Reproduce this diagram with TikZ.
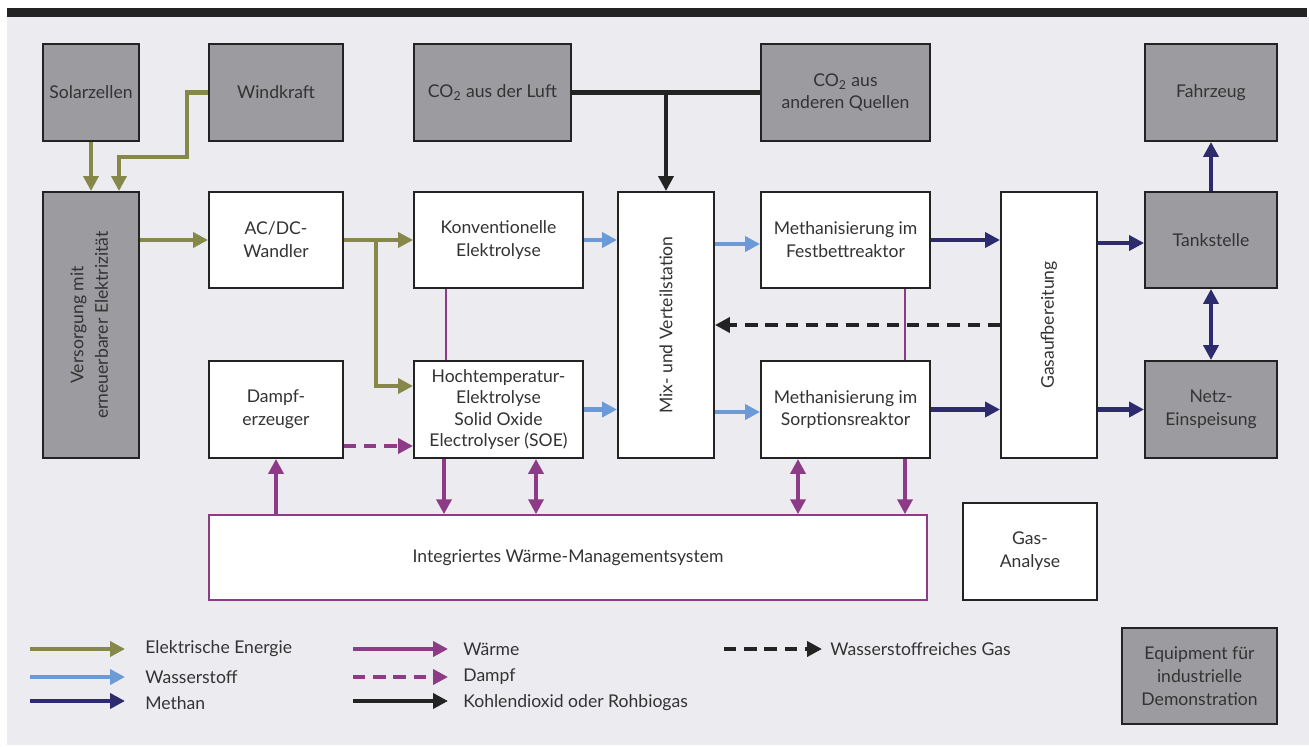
\documentclass[tikz,border=0pt]{standalone}
\usepackage{fontspec}
\usepackage{graphicx}
\setmainfont{Lato}
\usetikzlibrary{arrows.meta,calc}
\definecolor{bg}{HTML}{ECECF0}
\definecolor{greyfill}{HTML}{9C9CA0}
\definecolor{elec}{HTML}{86884A}
\definecolor{hyd}{HTML}{6B9AD6}
\definecolor{meth}{HTML}{2D2B6E}
\definecolor{heatc}{HTML}{8D3B86}
\definecolor{txt}{HTML}{333333}
\definecolor{edge}{HTML}{232323}
\def\u{0.02cm}
\begin{document}
\begin{tikzpicture}[x=0.02cm,y=-0.02cm,
  font=\fontsize{10}{13}\selectfont,
  box/.style={draw=edge, line width=1.1pt, fill=white, text=txt, align=center, inner sep=0pt},
  gbox/.style={box, fill=greyfill},
  hbox/.style={box, draw=heatc, line width=0.9pt},
  flow/.style={line width=2.3pt, -{Triangle[length=8.5pt,width=8.5pt]}},
  dflow/.style={line width=2.3pt, {Triangle[length=8.5pt,width=8.5pt]}-{Triangle[length=8.5pt,width=8.5pt]}},
  plain/.style={line width=1.4pt},
  dsh/.style={dash pattern=on 7pt off 4.5pt},
  legtext/.style={anchor=west, text=txt, inner sep=0pt}]
\useasboundingbox (0,0) rectangle (1309,747);
\fill[bg] (7,17) rectangle (1309,745);
\fill[edge] (7,8) rectangle (1307,17);

% top row
\node[gbox, minimum width=96*\u, minimum height=97*\u] (solar) at (91,92.5) {Solarzellen};
\node[gbox, minimum width=134*\u, minimum height=97*\u] (wind) at (276,92.5) {Windkraft};
\node[gbox, minimum width=157*\u, minimum height=97*\u] (co2l) at (492.5,92.5) {CO\textsubscript{2} aus der Luft};
\node[gbox, minimum width=169*\u, minimum height=97*\u] (co2a) at (845.5,92.5) {CO\textsubscript{2} aus\\anderen Quellen};
\node[gbox, minimum width=132*\u, minimum height=97*\u] (fahr) at (1211,92.5) {Fahrzeug};

% middle row
\node[gbox, minimum width=96*\u, minimum height=266*\u] (vers) at (91,325) {\rotatebox{90}{\begin{tabular}{@{}c@{}}Versorgung mit\\[1pt]erneuerbarer Elektrizität\end{tabular}}};
\node[box, minimum width=134*\u, minimum height=96*\u] (acdc) at (276,240) {AC/DC-\\Wandler};
\node[box, minimum width=169*\u, minimum height=96*\u] (konv) at (498.5,240) {Konventionelle\\Elektrolyse};
\node[box, minimum width=96*\u, minimum height=266*\u] (mix) at (666,325) {\rotatebox{90}{Mix- und Verteilstation}};
\node[box, minimum width=169*\u, minimum height=96*\u] (fest) at (845.5,240) {Methanisierung im\\Festbettreaktor};
\node[box, minimum width=96*\u, minimum height=266*\u] (gas) at (1049,325) {\rotatebox{90}{Gasaufbereitung}};
\node[gbox, minimum width=132*\u, minimum height=96*\u] (tank) at (1211,240) {Tankstelle};

% lower row
\node[box, minimum width=134*\u, minimum height=97*\u] (dampf) at (276,409.5) {Dampf-\\erzeuger};
\node[box, minimum width=169*\u, minimum height=97*\u, font=\fontsize{10}{12}\selectfont] (hoch) at (498.5,409.5) {Hochtemperatur-\\Elektrolyse\\Solid Oxide\\Electrolyser (SOE)};
\node[box, minimum width=169*\u, minimum height=97*\u] (sorp) at (845.5,409.5) {Methanisierung im\\Sorptionsreaktor};
\node[gbox, minimum width=132*\u, minimum height=97*\u] (netz) at (1211,409.5) {Netz-\\Einspeisung};

% bottom
\node[hbox, minimum width=718*\u, minimum height=85*\u] (heat) at (568,557.5) {Integriertes Wärme-Managementsystem};
\node[box, minimum width=134*\u, minimum height=97*\u] (gasan) at (1030,551.5) {Gas-\\Analyse};
\node[gbox, minimum width=155*\u, minimum height=96*\u] (equip) at (1199.5,676) {Equipment für\\industrielle\\Demonstration};

% electric energy
\draw[flow, elec] (solar.south) -- (vers.north -| solar.south);
\coordinate (w1) at (187,92.5);
\coordinate (w2) at (119,157);
\coordinate (w3) at ($(vers.north)+(28,0)$);
\draw[flow, elec] (wind.west) -- (w1) |- (w2) -- (w3);
\draw[flow, elec] (vers.east |- acdc.west) -- (acdc.west);
\draw[flow, elec] (acdc.east) -- (konv.west);
\coordinate (j1) at (376,240);
\coordinate (j2) at ($(hoch.west)+(0,-23.5)$);
\draw[flow, elec] (j1) |- (j2);

% hydrogen
\draw[flow, hyd] (konv.east) -- (mix.west |- konv.east);
\draw[flow, hyd] (hoch.east) -- (mix.west |- hoch.east);
\coordinate (m1) at ($(fest.west)+(0,4)$);
\coordinate (m2) at ($(sorp.west)+(0,2.5)$);
\draw[flow, hyd] (mix.east |- m1) -- (m1);
\draw[flow, hyd] (mix.east |- m2) -- (m2);

% methane
\draw[flow, meth] (fest.east) -- (gas.west |- fest.east);
\coordinate (g1) at ($(tank.west)+(0,3)$);
\draw[flow, meth] (gas.east |- g1) -- (g1);
\draw[flow, meth] (sorp.east) -- (gas.west |- sorp.east);
\draw[flow, meth] (gas.east |- netz.west) -- (netz.west);
\draw[flow, meth] (tank.north) -- (fahr.south);
\draw[dflow, meth] (tank.south) -- (netz.north);

% CO2
\draw[line width=2.3pt, edge] (co2l.east) -- (co2a.west);
\draw[flow, edge] (co2l.east -| mix.north) -- (mix.north);

% hydrogen-rich gas
\draw[flow, edge, dsh] (gas.west) -- (mix.east);

% heat
\coordinate (k1) at ($(konv.south)+(-52.5,0)$);
\coordinate (f1) at ($(fest.south)+(59.5,0)$);
\coordinate (h1) at ($(hoch.south)+(-54.5,0)$);
\coordinate (h2) at ($(hoch.south)+(37.5,0)$);
\coordinate (s1) at ($(sorp.south)+(-47.5,0)$);
\coordinate (s2) at ($(sorp.south)+(59.5,0)$);
\coordinate (d1) at ($(dampf.east)+(0,36.5)$);
\draw[plain, heatc] (k1) -- (k1 |- hoch.north);
\draw[plain, heatc] (f1) -- (f1 |- sorp.north);
\draw[flow, heatc] (heat.north -| dampf.south) -- (dampf.south);
\draw[flow, heatc] (h1) -- (h1 |- heat.north);
\draw[dflow, heatc] (h2) -- (h2 |- heat.north);
\draw[dflow, heatc] (s1) -- (s1 |- heat.north);
\draw[flow, heatc] (s2) -- (s2 |- heat.north);
\draw[flow, heatc, dsh] (d1) -- (d1 -| hoch.west);

% legend
\coordinate (a1) at (30,649); \coordinate (b1) at (125,649);
\coordinate (a2) at (30,677); \coordinate (b2) at (125,677);
\coordinate (a3) at (30,701); \coordinate (b3) at (125,701);
\coordinate (a4) at (353,649); \coordinate (b4) at (448,649);
\coordinate (a5) at (353,677); \coordinate (b5) at (448,677);
\coordinate (a6) at (353,701); \coordinate (b6) at (448,701);
\coordinate (a7) at (724,649); \coordinate (b7) at (822,649);
\draw[flow, elec] (a1) -- (b1);
\draw[flow, hyd] (a2) -- (b2);
\draw[flow, meth] (a3) -- (b3);
\draw[flow, heatc] (a4) -- (b4);
\draw[flow, heatc, dsh] (a5) -- (b5);
\draw[flow, edge] (a6) -- (b6);
\draw[flow, edge, dsh] (a7) -- (b7);
\node[legtext] (t1) at (145,649) {Elektrische Energie};
\node[legtext] (t2) at (145,677) {Wasserstoff};
\node[legtext] (t3) at (145,703) {Methan};
\node[legtext] (t4) at (463,649) {Wärme};
\node[legtext] (t5) at (463,677) {Dampf};
\node[legtext] (t6) at (463,703) {Kohlendioxid oder Rohbiogas};
\node[legtext] (t7) at (830,649) {Wasserstoffreiches Gas};
\end{tikzpicture}
\end{document}
